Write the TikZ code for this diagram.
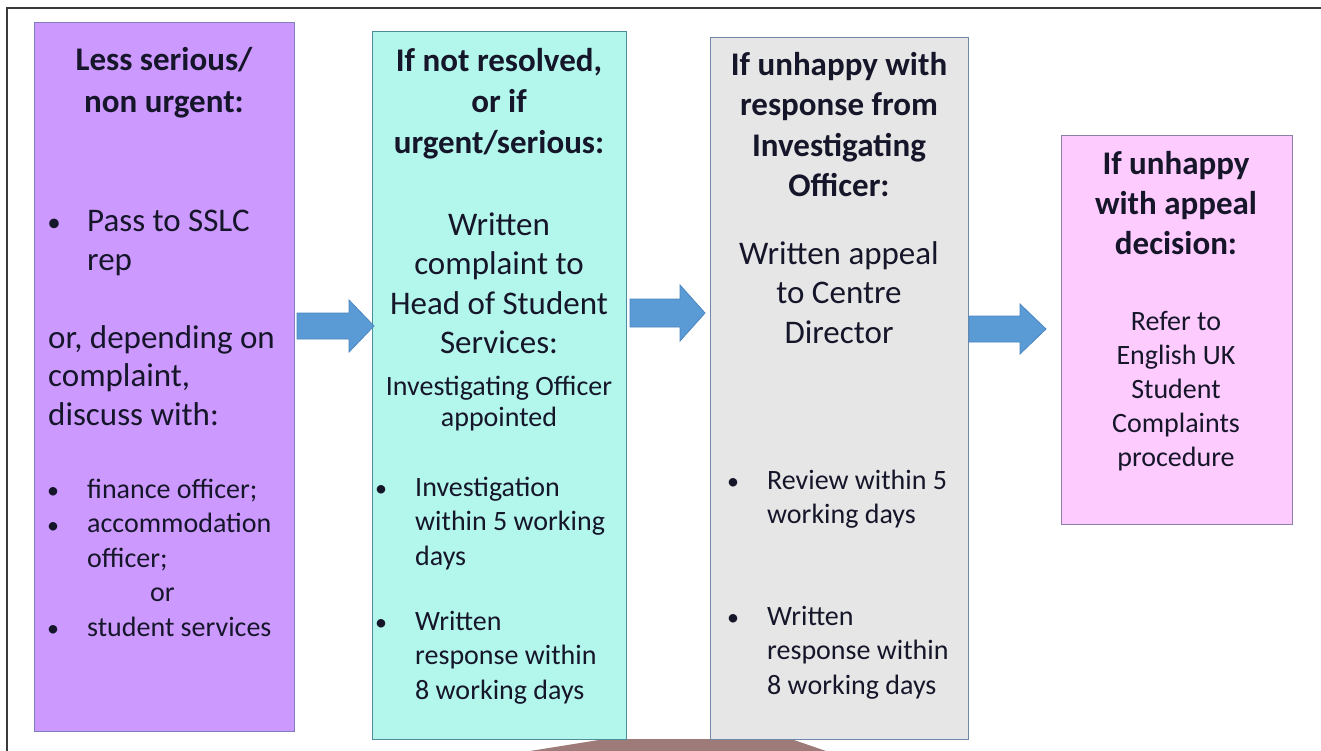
\documentclass[tikz,border=0pt]{standalone}
\usepackage{fontspec}
\setmainfont{Carlito}
\usetikzlibrary{calc}
\definecolor{txt}{HTML}{16162A}
\definecolor{purfill}{HTML}{CC99FF}
\definecolor{purline}{HTML}{7F7FBF}
\definecolor{cyanfill}{HTML}{B3F6EC}
\definecolor{cyanline}{HTML}{4E8C9C}
\definecolor{greyfill}{HTML}{E6E6E6}
\definecolor{greyline}{HTML}{7088A8}
\definecolor{pinkfill}{HTML}{FDCBFD}
\definecolor{pinkline}{HTML}{8C80A8}
\definecolor{arrfill}{HTML}{5B9BD5}
\definecolor{arrline}{HTML}{4A86C2}
\definecolor{brownshape}{HTML}{9C7B79}
\definecolor{framecol}{HTML}{3A3A3A}
\tikzset{
  panel/.style={draw=#1, line width=1.2pt, inner sep=0pt, anchor=north west},
  ttl/.style={font=\fontsize{33}{41}\selectfont\bfseries, text=txt, align=center, anchor=base, inner sep=0pt},
  big/.style={font=\fontsize{33}{39.5}\selectfont, text=txt, align=center, anchor=base, inner sep=0pt},
  bigl/.style={font=\fontsize{33}{38.5}\selectfont, text=txt, align=left, anchor=base west, inner sep=0pt},
  sml/.style={font=\fontsize{28}{34.5}\selectfont, text=txt, align=left, anchor=base west, inner sep=0pt},
  smc/.style={font=\fontsize{28}{34}\selectfont, text=txt, align=center, anchor=base, inner sep=0pt},
  bul/.style={font=\fontsize{24}{30}\selectfont, text=txt, anchor=base, inner sep=0pt},
  blockarrow/.style={fill=arrfill, draw=arrline, line width=0.8pt},
}
\newcommand{\blockarr}[5]{% tail, tip, shaft half, head half, head length
  \filldraw[blockarrow] let \p1=(#1), \p2=(#2) in
    (\x1,\y1+#3pt) -- (\x2-#5pt,\y1+#3pt) -- (\x2-#5pt,\y1+#4pt) -- (\x2,\y2)
    -- (\x2-#5pt,\y1-#4pt) -- (\x2-#5pt,\y1-#3pt) -- (\x1,\y1-#3pt) -- cycle;}
\begin{document}
\begin{tikzpicture}[x=1pt,y=-1pt]
\useasboundingbox (0,0) rectangle (1321,750);
\fill[white] (0,0) rectangle (1321,750);
% frame
\draw[framecol, line width=2pt] (7,752) -- (7,8) -- (1323,8);
% brown shape at bottom (behind panels)
\fill[brownshape] (605,739) -- (791,739) -- (826,751) -- (530,751) -- cycle;
% panels
\node[panel=purline, fill=purfill, minimum width=260, minimum height=709] (p1) at (34,22) {};
\node[panel=cyanline, fill=cyanfill, minimum width=254, minimum height=708] (p2) at (372,31) {};
\node[panel=greyline, fill=greyfill, minimum width=258, minimum height=702] (p3) at (710,37) {};
\node[panel=pinkline, fill=pinkfill, minimum width=231, minimum height=389] (p4) at (1061,135) {};
% block arrows
\coordinate (a1s) at (297,326); \coordinate (a1e) at (374,326);
\coordinate (a2s) at (630,313); \coordinate (a2e) at (705,313);
\coordinate (a3s) at (969,329); \coordinate (a3e) at (1046,329);
\blockarr{a1s}{a1e}{13}{26}{25}
\blockarr{a2s}{a2e}{14}{28}{25}
\blockarr{a3s}{a3e}{13}{25}{26}
% panel 1 text (node base = baseline of last line)
\node[ttl, font=\fontsize{33}{42}\selectfont\bfseries] (p1t) at (164,112) {Less serious/\\non urgent:};
\node[bul, font=\fontsize{27}{30}\selectfont] (p1ab) at (54,231) {•};
\node[bigl] (p1a) at (87,270) {Pass to SSLC\\rep};
\node[bigl] (p1b) at (48,425) {or, depending on\\complaint,\\discuss with:};
\node[bul] (p1cb1) at (53,498) {•};
\node[bul] (p1cb2) at (53,533) {•};
\node[bul] (p1cb3) at (53,636) {•};
\node[sml] (p1c) at (87,636) {finance officer;\\accommodation\\officer;\\\hspace*{63pt}or\\student services};
% panel 2 text
\node[ttl] (p2t) at (499,153) {If not resolved,\\or if\\urgent/serious:};
\node[big] (p2a) at (499,353.5) {Written\\complaint to\\Head of Student\\Services:};
\node[smc, font=\fontsize{28}{31}\selectfont] (p2b) at (499,426) {Investigating Officer\\appointed};
\node[bul] (p2cb) at (381,496) {•};
\node[sml] (p2c) at (415,565) {Investigation\\within 5 working\\days};
\node[bul] (p2db) at (381,630) {•};
\node[sml] (p2d) at (415,699) {Written\\response within\\8 working days};
% panel 3 text
\node[ttl, font=\fontsize{33}{40.5}\selectfont\bfseries] (p3t) at (839,196.5) {If unhappy with\\response from\\Investigating\\Officer:};
\node[big] (p3a) at (839,343) {Written appeal\\to Centre\\Director};
\node[bul] (p3bb) at (733,489) {•};
\node[sml] (p3b) at (767,523.5) {Review within 5\\working days};
\node[bul] (p3cb) at (733,625) {•};
\node[sml] (p3c) at (767,694) {Written\\response within\\8 working days};
% panel 4 text
\node[ttl, font=\fontsize{33}{40}\selectfont\bfseries] (p4t) at (1176,254) {If unhappy\\with appeal\\decision:};
\node[smc] (p4a) at (1176,466) {Refer to\\English UK\\Student\\Complaints\\procedure};
\end{tikzpicture}
\end{document}
